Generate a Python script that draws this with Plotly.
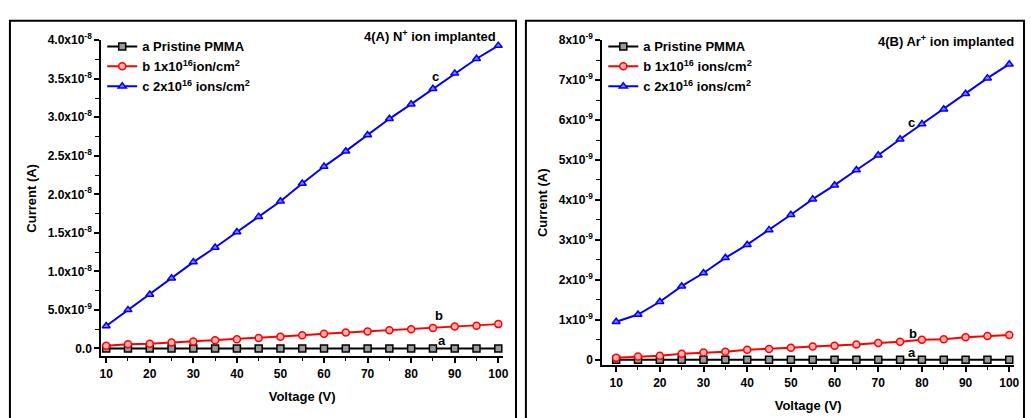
import plotly.graph_objects as go

voltage = [10, 15, 20, 25, 30, 35, 40, 45, 50, 55, 60, 65, 70, 75, 80, 85, 90, 95, 100]

# Panel A (N+ implanted), current in A
a_left = [0.0e-9] * 19
b_left = [0.35e-9, 0.55e-9, 0.6e-9, 0.75e-9, 0.9e-9, 1.05e-9, 1.2e-9, 1.35e-9, 1.5e-9, 1.7e-9,
          1.9e-9, 2.05e-9, 2.2e-9, 2.35e-9, 2.5e-9, 2.65e-9, 2.85e-9, 2.95e-9, 3.15e-9]
c_left = [2.9e-9, 5.0e-9, 7.0e-9, 9.1e-9, 11.2e-9, 13.1e-9, 15.1e-9, 17.1e-9, 19.1e-9, 21.4e-9,
          23.6e-9, 25.6e-9, 27.7e-9, 29.8e-9, 31.7e-9, 33.7e-9, 35.7e-9, 37.6e-9, 39.3e-9]

# Panel B (Ar+ implanted)
a_right = [0.0e-9] * 19
b_right = [0.05e-9, 0.08e-9, 0.1e-9, 0.15e-9, 0.18e-9, 0.2e-9, 0.25e-9, 0.27e-9, 0.3e-9, 0.33e-9,
           0.35e-9, 0.38e-9, 0.42e-9, 0.45e-9, 0.5e-9, 0.51e-9, 0.56e-9, 0.59e-9, 0.62e-9]
c_right = [0.95e-9, 1.13e-9, 1.45e-9, 1.84e-9, 2.17e-9, 2.55e-9, 2.88e-9, 3.25e-9, 3.63e-9, 4.02e-9,
           4.37e-9, 4.75e-9, 5.12e-9, 5.52e-9, 5.9e-9, 6.27e-9, 6.66e-9, 7.05e-9, 7.4e-9]

names_left = ["a Pristine PMMA", "b 1x10<sup>16</sup>ion/cm<sup>2</sup>", "c 2x10<sup>16</sup> ions/cm<sup>2</sup>"]
names_right = ["a Pristine PMMA", "b 1x10<sup>16</sup> ions/cm<sup>2</sup>", "c 2x10<sup>16</sup> ions/cm<sup>2</sup>"]

left_ticks = [0, 5e-9, 1e-8, 1.5e-8, 2e-8, 2.5e-8, 3e-8, 3.5e-8, 4e-8]
left_ticktext = ["0.0"] + ["%.1fx10<sup>%s</sup>" % (v, e) for v, e in
                           [(5.0, "-9"), (1.0, "-8"), (1.5, "-8"), (2.0, "-8"), (2.5, "-8"),
                            (3.0, "-8"), (3.5, "-8"), (4.0, "-8")]]
right_ticks = [0, 1e-9, 2e-9, 3e-9, 4e-9, 5e-9, 6e-9, 7e-9, 8e-9]
right_ticktext = ["0"] + ["%dx10<sup>-9</sup>" % i for i in range(1, 9)]
x_ticks = [10, 20, 30, 40, 50, 60, 70, 80, 90, 100]

colors = ["#000000", "#ff0000", "#0000ff"]
symbols = ["square", "circle", "triangle-up"]
fills = ["#9a9a9a", "#ffb0b0", "#7f7fff"]

FONT = "Liberation Sans, Arial, sans-serif"

fig = go.Figure()

for series, nm, col, sym, fc in zip([a_left, b_left, c_left], names_left, colors, symbols, fills):
    fig.add_trace(go.Scatter(x=voltage, y=series, name=nm, mode="lines+markers",
                             line=dict(color=col, width=2),
                             marker=dict(symbol=sym, size=7, color=fc, line=dict(color=col, width=1.5)),
                             xaxis="x", yaxis="y", legend="legend"))
for series, nm, col, sym, fc in zip([a_right, b_right, c_right], names_right, colors, symbols, fills):
    fig.add_trace(go.Scatter(x=voltage, y=series, name=nm, mode="lines+markers",
                             line=dict(color=col, width=2),
                             marker=dict(symbol=sym, size=7, color=fc, line=dict(color=col, width=1.5)),
                             xaxis="x2", yaxis="y2", legend="legend2"))

W, H = 1031, 418
axis_common = dict(showline=True, linecolor="black", linewidth=2, ticks="outside",
                   ticklen=5, tickwidth=1.5, tickcolor="black", showgrid=False, zeroline=False,
                   tickfont=dict(family=FONT, size=12, color="black", weight="bold"))

fig.update_layout(
    width=W, height=H, margin=dict(l=0, r=0, t=0, b=0),
    paper_bgcolor="white", plot_bgcolor="white",
    font=dict(family=FONT, color="black"),
    xaxis=dict(domain=[100 / W, 505 / W], range=[8.86, 101.1], tickvals=x_ticks, anchor="y",
               title=dict(text="Voltage (V)", font=dict(size=13, weight="bold"), standoff=12),
               minor=dict(ticks="outside", ticklen=3, tickwidth=1.2, tickcolor="black", dtick=5),
               **axis_common),
    yaxis=dict(domain=[1 - 356 / H, 1 - 32 / H], range=[-1.05e-9, 4.0e-8], tickvals=left_ticks,
               ticktext=left_ticktext, anchor="x",
               title=dict(text="Current (A)", font=dict(size=13, weight="bold"), standoff=8),
               minor=dict(ticks="outside", ticklen=4, tickwidth=1.2, tickcolor="black",
                          tickvals=[2.5e-9 + 5e-9 * i for i in range(8)]),
               **axis_common),
    xaxis2=dict(domain=[605 / W, 1020 / W], range=[6.83, 101.1], tickvals=x_ticks, anchor="y2",
                title=dict(text="Voltage (V)", font=dict(size=13, weight="bold"), standoff=12),
                minor=dict(ticks="outside", ticklen=3, tickwidth=1.2, tickcolor="black", dtick=5),
                **axis_common),
    yaxis2=dict(domain=[1 - 365 / H, 1 - 32 / H], range=[-0.14e-9, 8.0e-9], tickvals=right_ticks,
                ticktext=right_ticktext, anchor="x2",
                title=dict(text="Current (A)", font=dict(size=13, weight="bold"), standoff=8),
                minor=dict(ticks="outside", ticklen=4, tickwidth=1.2, tickcolor="black",
                           tickvals=[0.5e-9 + 1e-9 * i for i in range(8)]),
                **axis_common),
    legend=dict(x=101 / W, y=1 - 23 / H, xanchor="left", yanchor="top", bgcolor="rgba(0,0,0,0)",
                font=dict(size=13, weight="bold"), tracegroupgap=0, itemwidth=30),
    legend2=dict(x=606 / W, y=1 - 23 / H, xanchor="left", yanchor="top", bgcolor="rgba(0,0,0,0)",
                 font=dict(size=13, weight="bold"), tracegroupgap=0, itemwidth=30),
    showlegend=True,
)

ann_font = dict(size=13, weight="bold", color="black")
annotations = [
    dict(x=500 / W, y=1 - 28 / H, xref="paper", yref="paper", text="4(A) N<sup>+</sup> ion implanted",
         showarrow=False, xanchor="right", yanchor="middle", font=ann_font),
    dict(x=1022 / W, y=1 - 33 / H, xref="paper", yref="paper", text="4(B) Ar<sup>+</sup> ion implanted",
         showarrow=False, xanchor="right", yanchor="middle", font=ann_font),
    dict(x=85.6, y=35.3e-9, xref="x", yref="y", text="c", showarrow=False, font=ann_font),
    dict(x=86.3, y=4.3e-9, xref="x", yref="y", text="b", showarrow=False, font=ann_font),
    dict(x=87.0, y=1.0e-9, xref="x", yref="y", text="a", showarrow=False, font=ann_font),
    dict(x=77.6, y=5.95e-9, xref="x2", yref="y2", text="c", showarrow=False, font=ann_font),
    dict(x=78.0, y=0.65e-9, xref="x2", yref="y2", text="b", showarrow=False, font=ann_font),
    dict(x=77.8, y=0.18e-9, xref="x2", yref="y2", text="a", showarrow=False, font=ann_font),
]
fig.update_layout(annotations=annotations)

fig.add_shape(type="rect", xref="paper", yref="paper", x0=8 / W, x1=518 / W, y0=-0.02, y1=1 - 12 / H,
              line=dict(color="black", width=2), layer="below")
fig.add_shape(type="rect", xref="paper", yref="paper", x0=528 / W, x1=1030 / W, y0=-0.02, y1=1 - 12 / H,
              line=dict(color="black", width=2), layer="below")

fig.write_html("out.html", config={"displayModeBar": False},
               post_script="document.body.style.margin='0';document.body.style.padding='0';"
                           "document.body.style.overflow='hidden';"
                           "document.documentElement.style.overflow='hidden';")
